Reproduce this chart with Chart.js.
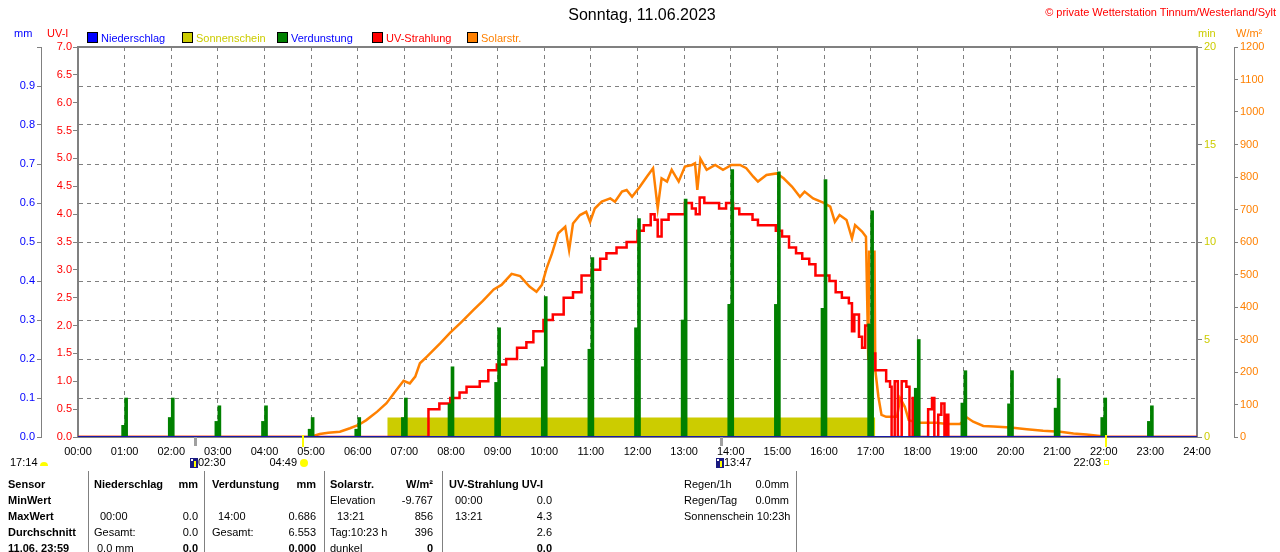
<!DOCTYPE html>
<html>
<head>
<meta charset="utf-8">
<script src="https://cdn.jsdelivr.net/npm/chart.js@4.4.0/dist/chart.umd.min.js"></script>
<style>
  body { margin: 0; background: #fff; }
  #wrap { position: relative; width: 1280px; height: 552px; overflow: hidden; font-family: 'Liberation Sans', Arial, sans-serif; font-size: 11px; color: #000; }
  #wrap canvas { position: absolute; left: 0; top: 0; }
  .t { position: absolute; white-space: nowrap; line-height: 14px; }
  .b { font-weight: bold; }
  .vl { position: absolute; width: 1px; background: #808080; top: 471px; height: 81px; }
  .sq { position: absolute; width: 9px; height: 9px; border: 1px solid #000; top: 32px; }
</style>
</head>
<body>
<div id="wrap">
  <canvas id="wetter" width="1280" height="552"></canvas>

  <div class="t" style="left:0;width:1284px;text-align:center;top:5px;font-size:16px;line-height:20px;">Sonntag, 11.06.2023</div>
  <div class="t" style="right:4px;top:5px;color:#ff0000;">© private Wetterstation Tinnum/Westerland/Sylt</div>

  <div class="t" style="left:14px;top:26px;color:#0000ff;">mm</div>
  <div class="t" style="left:47px;top:26px;color:#ff0000;">UV-I</div>
  <div class="t" style="left:1198px;top:26px;color:#cccc00;">min</div>
  <div class="t" style="left:1236px;top:26px;color:#ff8000;">W/m²</div>

  <div class="sq" style="left:87px;background:#0000ff;"></div>
  <div class="t" style="left:101px;top:31px;color:#0000ff;">Niederschlag</div>
  <div class="sq" style="left:182px;background:#cccc00;"></div>
  <div class="t" style="left:196px;top:31px;color:#cccc00;">Sonnenschein</div>
  <div class="sq" style="left:277px;background:#008000;"></div>
  <div class="t" style="left:291px;top:31px;color:#0000ff;">Verdunstung</div>
  <div class="sq" style="left:372px;background:#ff0000;"></div>
  <div class="t" style="left:386px;top:31px;color:#ff0000;">UV-Strahlung</div>
  <div class="sq" style="left:467px;background:#ff8000;"></div>
  <div class="t" style="left:481px;top:31px;color:#ff8000;">Solarstr.</div>

  <div class="vl" style="left:88px;"></div>
  <div class="vl" style="left:204px;"></div>
  <div class="vl" style="left:324px;"></div>
  <div class="vl" style="left:442px;"></div>
  <div class="vl" style="left:796px;"></div>
</div>

<script>
// Verdunstung (mm) je Stunde, Hauptwert und Teilwert
const verdZeit = ["01:00", "02:00", "03:00", "04:00", "05:00", "06:00", "07:00", "08:00", "09:00", "10:00", "11:00", "12:00",
  "13:00", "14:00", "15:00", "16:00", "17:00", "18:00", "19:00", "20:00", "21:00", "22:00", "23:00"];
const verdStunde = [0.10, 0.10, 0.08, 0.08, 0.05, 0.05, 0.10, 0.18, 0.28, 0.36, 0.46, 0.56,
  0.61, 0.686, 0.68, 0.66, 0.58, 0.25, 0.17, 0.17, 0.15, 0.10, 0.08];
const verdTeil = [0.03, 0.05, 0.04, 0.04, 0.02, 0.02, 0.05, 0.085, 0.14, 0.18, 0.225, 0.28,
  0.30, 0.34, 0.34, 0.33, 0.29, 0.125, 0.087, 0.085, 0.074, 0.05, 0.04];

// Niederschlag (mm)
const regenZeit = ["00:00", "24:00"];
const regenWert = [0, 0];

// Sonnenschein (min pro Minute)
const sonneZeit = ["06:38", "17:06"];
const sonneWert = [1, 1];

// UV-Index
const uvZeit = ["00:00", "07:31", "07:45", "07:59", "08:11", "08:20", "08:37", "08:48", "08:59", "09:11", "09:25", "09:37",
  "09:46", "09:59", "10:11", "10:25", "10:37", "10:48", "11:01", "11:12", "11:20", "11:33", "11:46", "12:00",
  "12:08", "12:17", "12:22", "12:26", "12:31", "12:40", "13:01", "13:10", "13:15", "13:20", "13:26", "13:45",
  "13:54", "14:03", "14:11", "14:28", "14:35", "14:58", "15:06", "15:15", "15:24", "15:32", "15:41", "15:49",
  "16:07", "16:15", "16:23", "16:32", "16:36", "16:39", "16:45", "16:49", "16:53", "16:58", "17:02", "17:06",
  "17:20", "17:25", "17:27", "17:31", "17:35", "17:40", "17:46", "17:50", "17:54", "17:56", "18:14", "18:19",
  "18:22", "18:27", "18:31", "18:35", "18:37", "18:40", "24:00"];
const uvWert = [0.0, 0.5, 0.6, 0.7, 0.8, 0.9, 1.0, 1.2, 1.3, 1.4, 1.6, 1.7,
  1.9, 2.1, 2.2, 2.5, 2.6, 2.9, 3.0, 3.2, 3.3, 3.4, 3.5, 3.7,
  3.8, 4.0, 3.9, 3.6, 3.9, 4.0, 4.2, 4.1, 4.0, 4.3, 4.2, 4.1,
  4.2, 4.1, 4.0, 3.9, 3.8, 3.7, 3.6, 3.4, 3.3, 3.2, 3.1, 2.9,
  2.8, 2.6, 2.5, 2.4, 1.9, 2.2, 1.8, 1.6, 2.0, 1.4, 1.5, 1.2,
  1.0, 0.9, 0.0, 1.0, 0.0, 1.0, 0.9, 0.0, 0.7, 0.0, 0.5, 0.7,
  0.0, 0.4, 0.6, 0.0, 0.4, 0.0, 0.0];

// Solarstrahlung (W/m²)
const solarZeit = ["00:00", "05:00", "05:03", "05:11", "05:22", "05:37", "05:50", "06:01", "06:11", "06:25", "06:37", "06:48",
  "06:59", "07:07", "07:14", "07:20", "07:29", "07:46", "07:59", "08:14", "08:29", "08:41", "08:55", "09:05",
  "09:18", "09:29", "09:41", "09:50", "09:57", "10:03", "10:10", "10:18", "10:27", "10:32", "10:37", "10:46",
  "10:54", "10:59", "11:05", "11:14", "11:25", "11:31", "11:40", "11:46", "11:53", "12:03", "12:12", "12:20",
  "12:26", "12:31", "12:38", "12:44", "12:53", "13:01", "13:10", "13:14", "13:17", "13:21", "13:29", "13:40",
  "13:50", "14:01", "14:12", "14:20", "14:29", "14:35", "14:46", "14:59", "15:08", "15:19", "15:29", "15:35",
  "15:46", "15:59", "16:08", "16:14", "16:20", "16:29", "16:36", "16:40", "16:49", "16:54", "16:56", "16:57",
  "16:58", "17:05", "17:06", "17:10", "17:14", "17:20", "17:34", "17:38", "17:44", "17:49", "18:00", "18:25",
  "18:38", "18:55", "19:04", "19:12", "19:25", "19:38", "20:00", "20:21", "20:42", "21:04", "21:21", "21:38",
  "21:55", "22:03", "24:00"];
const solarWert = [0, 0, 3, 9, 13, 16, 27, 37, 52, 78, 104, 139,
  173, 165, 186, 227, 247, 288, 321, 355, 391, 419, 454, 468,
  502, 495, 463, 447, 468, 519, 565, 627, 647, 575, 657, 683,
  693, 662, 703, 724, 734, 724, 755, 760, 739, 770, 801, 827,
  704, 796, 786, 822, 786, 832, 837, 842, 760, 856, 822, 837,
  822, 837, 837, 827, 801, 786, 806, 811, 796, 770, 739, 755,
  734, 721, 709, 662, 683, 668, 611, 652, 632, 616, 370, 237,
  570, 570, 206, 124, 68, 62, 62, 119, 93, 52, 44, 44,
  40, 40, 60, 47, 34, 32, 29, 24, 19, 16, 11, 8,
  3, 0, 0];

// Sonnen- und Mondzeiten unter der Achse
const sonnenAufgang = "04:49";
const sonnenUntergang = "22:03";
const mondAufgang = "02:30";
const mondUntergang = "13:47";
const mondVortag = "17:14";

function stunden(zeit) {
  const teile = zeit.split(":");
  return Number(teile[0]) + Number(teile[1]) / 60;
}

function punkte(zeiten, werte) {
  return zeiten.map((z, i) => ({ x: stunden(z), y: werte[i] }));
}

const schrift = "'Liberation Sans', Arial, sans-serif";
Chart.defaults.font.family = schrift;
Chart.defaults.font.size = 11;

// Markierungen fuer Sonne und Mond
const markierungen = {
  id: "markierungen",
  afterDraw(chart) {
    const ctx = chart.ctx;
    const xs = chart.scales.x;
    const y0 = chart.chartArea.bottom;
    ctx.save();
    ctx.font = "11px " + schrift;
    ctx.textBaseline = "middle";
    ctx.fillStyle = "#000";

    const strich = (zeit, farbe) => {
      const px = Math.round(xs.getPixelForValue(stunden(zeit)));
      ctx.fillStyle = farbe;
      ctx.fillRect(px - 1, y0 - 2, 2, 12);
      return px;
    };

    // Sonnenaufgang
    let px = strich(sonnenAufgang, "#ffff00");
    ctx.fillStyle = "#000";
    ctx.textAlign = "right";
    ctx.fillText(sonnenAufgang, px - 6, 463);
    ctx.fillStyle = "#ffff00";
    ctx.beginPath();
    ctx.arc(px + 1, 463, 4, 0, Math.PI * 2);
    ctx.fill();

    // Sonnenuntergang
    px = strich(sonnenUntergang, "#ffff00");
    ctx.fillStyle = "#000";
    ctx.fillText(sonnenUntergang, px - 5, 463);
    ctx.strokeStyle = "#ffff00";
    ctx.lineWidth = 1;
    ctx.strokeRect(px - 1.5, 460.5, 4, 4);

    // Mondaufgang / -untergang
    const mond = (zeit) => {
      const p = Math.round(xs.getPixelForValue(stunden(zeit)));
      ctx.fillStyle = "#a0a0a0";
      ctx.fillRect(p - 1, y0, 3, 9);
      ctx.fillStyle = "#1a1a80";
      ctx.fillRect(p - 5, 458, 8, 10);
      ctx.fillStyle = "#ffffff";
      ctx.fillRect(p - 4, 459, 2, 2);
      ctx.fillStyle = "#ffff00";
      ctx.fillRect(p - 1, 461, 2, 6);
      ctx.fillStyle = "#000";
      ctx.textAlign = "left";
      ctx.fillText(zeit, p + 3, 463);
    };
    mond(mondAufgang);
    mond(mondUntergang);

    // Mond vom Vortag links
    ctx.fillStyle = "#000";
    ctx.textAlign = "left";
    ctx.fillText(mondVortag, 10, 463);
    ctx.fillStyle = "#ffff00";
    ctx.beginPath();
    ctx.arc(44, 466, 4, Math.PI, 0);
    ctx.fill();
    ctx.restore();
  }
};

const ctx = document.getElementById("wetter").getContext("2d");
new Chart(ctx, {
  type: "bar",
  data: {
    datasets: [
      {
        type: "line",
        label: "Niederschlag",
        data: punkte(regenZeit, regenWert),
        yAxisID: "mm",
        borderColor: "#1818a8",
        borderWidth: 2,
        pointRadius: 0,
        order: 0
      },
      {
        label: "Verdunstung Teil",
        data: punkte(verdZeit, verdTeil),
        yAxisID: "mm",
        backgroundColor: "#008000",
        barThickness: 3,
        order: 1
      },
      {
        label: "Verdunstung",
        data: punkte(verdZeit, verdStunde),
        yAxisID: "mm",
        backgroundColor: "#008000",
        barThickness: 3,
        order: 1
      },
      {
        type: "line",
        label: "UV-Strahlung",
        data: punkte(uvZeit, uvWert),
        yAxisID: "uv",
        borderColor: "#ff0000",
        borderWidth: 2.5,
        stepped: true,
        pointRadius: 0,
        order: 2
      },
      {
        type: "line",
        label: "Solarstr.",
        data: punkte(solarZeit, solarWert),
        yAxisID: "wm",
        borderColor: "#ff8000",
        borderWidth: 2.5,
        pointRadius: 0,
        order: 3
      },
      {
        type: "line",
        label: "Sonnenschein",
        data: punkte(sonneZeit, sonneWert),
        yAxisID: "min",
        borderWidth: 0,
        borderColor: "#cccc00",
        backgroundColor: "#cccc00",
        fill: "origin",
        pointRadius: 0,
        order: 4
      }
    ]
  },
  options: {
    responsive: false,
    animation: false,
    devicePixelRatio: 1,
    layout: { padding: { top: 47, left: 0, right: 0, bottom: 0 } },
    plugins: {
      legend: { display: false },
      tooltip: { enabled: false },
      title: { display: false }
    },
    scales: {
      x: {
        type: "linear",
        position: "bottom",
        offset: false,
        min: 0,
        max: 24,
        ticks: {
          stepSize: 1,
          autoSkip: false,
          maxRotation: 0,
          color: "#000",
          padding: 8,
          callback: (v) => String(v).padStart(2, "0") + ":00"
        },
        grid: { color: "#808080", drawTicks: false, offset: false },
        border: { color: "#808080", width: 2, dash: [4, 4] },
        afterFit: (s) => { s.height = 115; }
      },
      xTop: {
        type: "linear",
        position: "top",
        offset: false,
        min: 0,
        max: 24,
        ticks: { display: false },
        grid: { drawOnChartArea: false, drawTicks: false, offset: false },
        border: { color: "#808080", width: 2 },
        afterFit: (s) => { s.height = 0; }
      },
      mm: {
        position: "left",
        weight: 2,
        min: 0,
        max: 1,
        ticks: {
          stepSize: 0.1,
          color: "#0000ff",
          padding: 2,
          callback: (v) => (v >= 0.99 ? "" : v.toFixed(1))
        },
        grid: { color: "#808080", tickColor: "#808080", tickLength: 4 },
        border: { color: "#808080", width: 1, dash: [4, 4] },
        afterFit: (s) => { s.width = 41; }
      },
      uv: {
        position: "left",
        weight: 1,
        min: 0,
        max: 7,
        ticks: { stepSize: 0.5, color: "#ff0000", padding: 1, callback: (v) => v.toFixed(1) },
        grid: { drawOnChartArea: false, tickColor: "#808080", tickLength: 5 },
        border: { color: "#808080", width: 2 },
        afterFit: (s) => { s.width = 37; }
      },
      min: {
        position: "right",
        weight: 1,
        min: 0,
        max: 20,
        ticks: { stepSize: 5, color: "#cccc00", padding: 2 },
        grid: { drawOnChartArea: false, tickColor: "#808080", tickLength: 5 },
        border: { color: "#808080", width: 2 },
        afterFit: (s) => { s.width = 37; }
      },
      wm: {
        position: "right",
        weight: 2,
        min: 0,
        max: 1200,
        ticks: { stepSize: 100, color: "#ff8000", padding: 2, callback: (v) => String(v) },
        grid: { drawOnChartArea: false, tickColor: "#808080", tickLength: 4 },
        border: { color: "#808080", width: 1 },
        afterFit: (s) => { s.width = 46; }
      }
    }
  },
  plugins: [markierungen]
});

// Tabelle unter dem Diagramm
const wrap = document.getElementById("wrap");
function text(s, x, y, opt) {
  const d = document.createElement("div");
  d.className = "t" + (opt && opt.b ? " b" : "");
  d.textContent = s;
  d.style.top = (y - 7) + "px";
  if (opt && opt.r) d.style.right = (1280 - x) + "px";
  else d.style.left = x + "px";
  wrap.appendChild(d);
}

const zeilen = [484, 500, 516, 532, 548];
text("Sensor", 8, zeilen[0], { b: 1 });
text("MinWert", 8, zeilen[1], { b: 1 });
text("MaxWert", 8, zeilen[2], { b: 1 });
text("Durchschnitt", 8, zeilen[3], { b: 1 });
text("11.06. 23:59", 8, zeilen[4], { b: 1 });

text("Niederschlag", 94, zeilen[0], { b: 1 });
text("mm", 198, zeilen[0], { b: 1, r: 1 });
text("00:00", 100, zeilen[2]);
text("0.0", 198, zeilen[2], { r: 1 });
text("Gesamt:", 94, zeilen[3]);
text("0.0", 198, zeilen[3], { r: 1 });
text("0.0 mm", 97, zeilen[4]);
text("0.0", 198, zeilen[4], { b: 1, r: 1 });

text("Verdunstung", 212, zeilen[0], { b: 1 });
text("mm", 316, zeilen[0], { b: 1, r: 1 });
text("14:00", 218, zeilen[2]);
text("0.686", 316, zeilen[2], { r: 1 });
text("Gesamt:", 212, zeilen[3]);
text("6.553", 316, zeilen[3], { r: 1 });
text("0.000", 316, zeilen[4], { b: 1, r: 1 });

text("Solarstr.", 330, zeilen[0], { b: 1 });
text("W/m²", 433, zeilen[0], { b: 1, r: 1 });
text("Elevation", 330, zeilen[1]);
text("-9.767", 433, zeilen[1], { r: 1 });
text("13:21", 337, zeilen[2]);
text("856", 433, zeilen[2], { r: 1 });
text("Tag:10:23 h", 330, zeilen[3]);
text("396", 433, zeilen[3], { r: 1 });
text("dunkel", 330, zeilen[4]);
text("0", 433, zeilen[4], { b: 1, r: 1 });

text("UV-Strahlung UV-I", 449, zeilen[0], { b: 1 });
text("00:00", 455, zeilen[1]);
text("0.0", 552, zeilen[1], { r: 1 });
text("13:21", 455, zeilen[2]);
text("4.3", 552, zeilen[2], { r: 1 });
text("2.6", 552, zeilen[3], { r: 1 });
text("0.0", 552, zeilen[4], { b: 1, r: 1 });

text("Regen/1h", 684, zeilen[0]);
text("0.0mm", 789, zeilen[0], { r: 1 });
text("Regen/Tag", 684, zeilen[1]);
text("0.0mm", 789, zeilen[1], { r: 1 });
text("Sonnenschein 10:23h", 684, zeilen[2]);
</script>
</body>
</html>
